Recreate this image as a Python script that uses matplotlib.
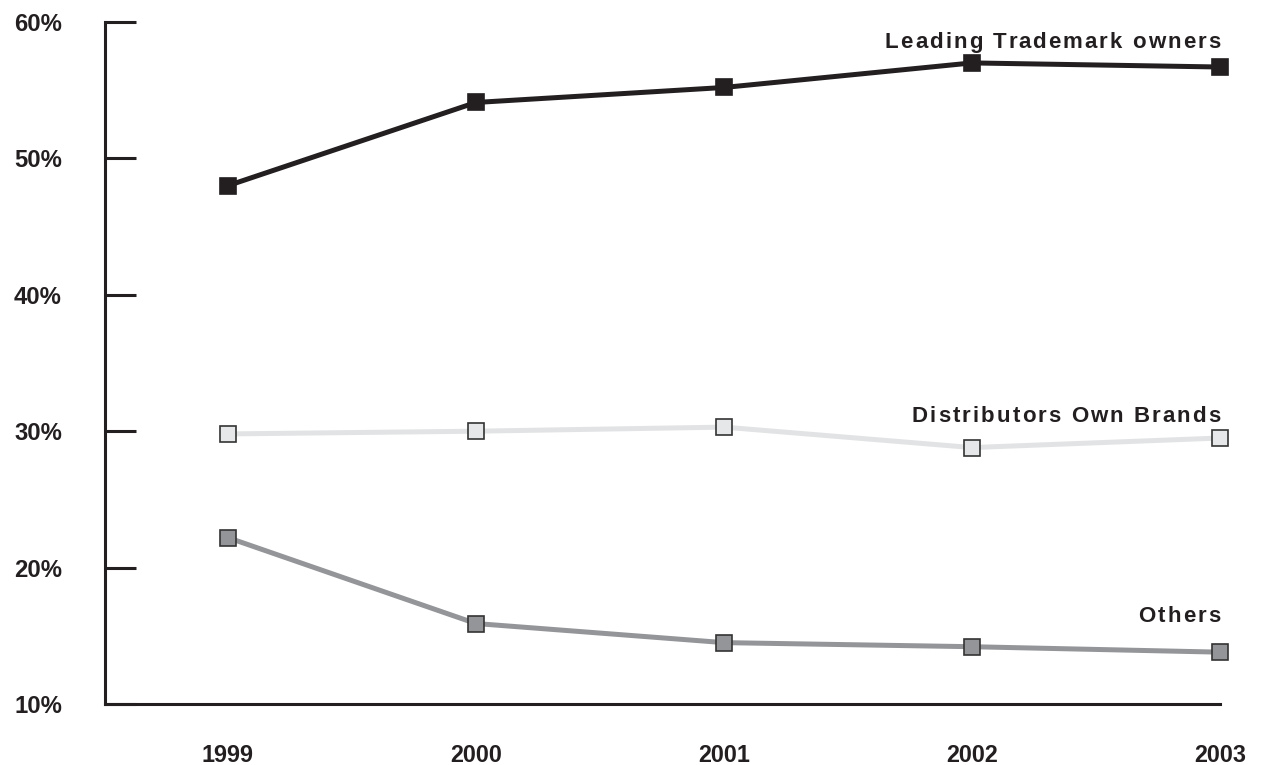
import matplotlib
matplotlib.use("Agg")
import matplotlib.pyplot as plt
from matplotlib.ticker import FixedLocator, FuncFormatter
from matplotlib.font_manager import FontProperties
from matplotlib.textpath import TextToPath

years = [1999, 2000, 2001, 2002, 2003]
leading = [48.0, 54.1, 55.2, 57.0, 56.7]
distributors = [29.8, 30.0, 30.3, 28.8, 29.5]
others = [22.2, 15.9, 14.5, 14.2, 13.8]
y_ticks = [10, 20, 30, 40, 50, 60]

ink = "#231f20"
plt.rcParams["font.family"] = ["Liberation Sans", "DejaVu Sans"]

fig = plt.figure(figsize=(12.65, 7.65), dpi=100)
ax = fig.add_axes([105 / 1265, 1 - 704 / 765, (1220 - 105) / 1265, (704 - 22) / 765])

series = [
    (leading, ink, ink, "Leading Trademark owners"),
    (distributors, "#e2e3e4", "#e6e7e8", "Distributors Own Brands"),
    (others, "#939598", "#939598", "Others"),
]
for vals, lc, fc, name in series:
    ax.plot(years, vals, color=lc, lw=3.6, solid_capstyle="butt", zorder=2,
            clip_on=False)
    ax.plot(years, vals, ls="none", marker="s", ms=11.8, mfc=fc,
            mec=ink if fc == ink else "#333333", mew=1.2, zorder=3, clip_on=False)


def tracked_text(ax, x, y, s, size, track_pt, color):
    """Right-aligned bold text with extra letter spacing (in points)."""
    prop = FontProperties(family="Liberation Sans", weight="bold", size=size)
    t2p = TextToPath()

    def width(txt):
        if not txt:
            return 0.0
        w, _, _ = t2p.get_text_width_height_descent(txt.replace(" ", "\u00a0"), prop, ismath=False)
        return w

    total = width(s) + track_pt * (len(s) - 1)
    for i, ch in enumerate(s):
        if ch == " ":
            continue
        off = width(s[:i]) + track_pt * i - total
        ax.annotate(ch, xy=(x, y), xytext=(off, 0), textcoords="offset points",
                    ha="left", va="baseline", fontproperties=prop, color=color,
                    annotation_clip=False)


label_pos = {
    "Leading Trademark owners": 58.07,
    "Distributors Own Brands": 30.67,
    "Others": 16.01,
}
for vals, lc, fc, name in series:
    tracked_text(ax, 2003.002, label_pos[name], name, 16, 1.5, ink)

ax.set_xlim(1998.505, 2003.0)
ax.set_ylim(10, 60)
ax.yaxis.set_major_locator(FixedLocator(y_ticks))
ax.yaxis.set_major_formatter(FuncFormatter(lambda v, p: f"{v:.0f}%"))
ax.set_xticks(years)
ax.set_xticklabels([str(y) for y in years])

for s in ["top", "right"]:
    ax.spines[s].set_visible(False)
for s in ["left", "bottom"]:
    ax.spines[s].set_linewidth(2.2)
    ax.spines[s].set_color(ink)

ax.tick_params(axis="y", direction="in", length=22, width=2.2, color=ink,
               pad=31, labelsize=17.2, labelcolor=ink)
ax.tick_params(axis="x", length=0, pad=29, labelsize=16.8, labelcolor=ink)
for lab in ax.get_xticklabels() + ax.get_yticklabels():
    lab.set_fontweight("bold")

fig.savefig("out.png", dpi=100)
